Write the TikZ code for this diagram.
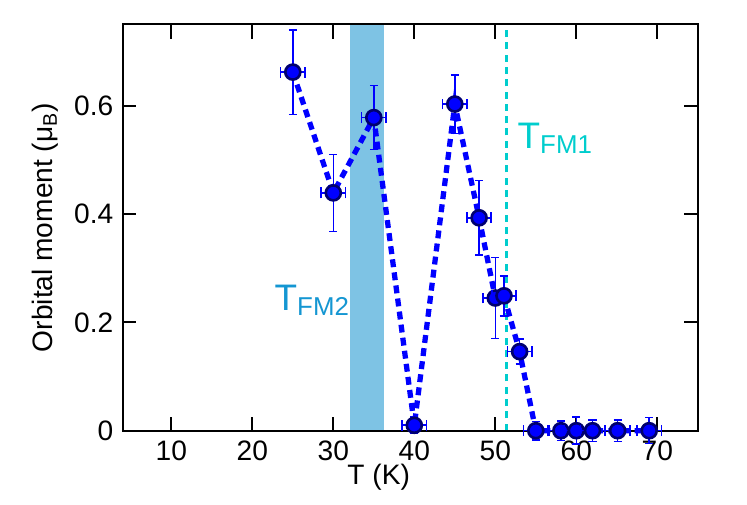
\documentclass[tikz,border=0pt]{standalone}
\usepackage{fontspec}
\setmainfont{Liberation Sans}
\definecolor{band}{RGB}{126,195,228}
\definecolor{tfmone}{RGB}{0,205,205}
\definecolor{tfmtwo}{RGB}{20,150,210}
\definecolor{mk}{RGB}{0,0,255}
\definecolor{mkb}{RGB}{0,0,110}
\begin{document}
\begin{tikzpicture}[
  ticklab/.style={font=\fontsize{16pt}{18pt}\selectfont},
  errb/.style={mk, line width=0.9pt},
  pt/.style={circle, fill=mk, draw=mkb, line width=1.5pt, minimum size=0.3cm, inner sep=0pt}]
\useasboundingbox (0,0) rectangle (14.94,10.10);
\begin{scope}[shift={(1.806,1.486)}, x=0.162cm, y=10.834cm]
\fill[band] (32.1,0) rectangle (36.2,0.75);
\draw[tfmone, line width=1.5pt, dash pattern=on 4pt off 3pt] (51.4,0) -- (51.4,0.75);
\node[tfmone, font=\fontsize{21pt}{23pt}\selectfont] (l1) at (57.4,0.54) {T\textsubscript{FM1}};
\node[tfmtwo, font=\fontsize{21pt}{23pt}\selectfont] (l2) at (27.4,0.241) {T\textsubscript{FM2}};
% axes
\draw[line width=1.2pt] (4,0) rectangle (75,0.75);
\foreach \t in {10,20,...,70}{
  \draw[line width=1pt] (\t,0) -- ++(0,0.026);
  \draw[line width=1pt] (\t,0.75) -- ++(0,-0.026);
  \node[ticklab, anchor=north] at (\t,-0.008) {\t};}
\foreach \m/\l in {0/0,0.2/0.2,0.4/0.4,0.6/0.6}{
  \draw[line width=1pt] (4,\m) -- ++(1.7,0);
  \draw[line width=1pt] (75,\m) -- ++(-1.7,0);
  \node[ticklab, anchor=east] at (3.6,\m) {\l};}
\node[font=\fontsize{16pt}{18pt}\selectfont] (xl) at (35.6,-0.086) {T (K)};
\node[font=\fontsize{16pt}{18pt}\selectfont, rotate=90] (yl) at (-5.6,0.375) {Orbital moment (μ\textsubscript{B})};
% data
\draw[mk, line width=3pt, dash pattern=on 4.5pt off 3pt]
 (25,0.662) -- (30,0.439) -- (35,0.578) -- (40,0.01) -- (45,0.603) -- (48,0.393) -- (50,0.245) -- (51.07,0.249) -- (53,0.146) -- (55,0) -- (58.1,0) -- (60,0) -- (62,0) -- (65.1,0) -- (69,0);
\foreach \x/\y/\e in {25/0.662/0.078, 30/0.439/0.071, 35/0.578/0.059, 40/0.01/0.015, 45/0.603/0.054, 48/0.393/0.069, 50/0.245/0.075, 51.07/0.249/0.037, 53/0.146/0.023, 55/0/0.017, 58.1/0/0.018, 60/0/0.025, 62/0/0.02, 65.1/0/0.02, 69/0/0.024}{
  \draw[errb] (\x,\y-\e) -- (\x,\y+\e);
  \draw[errb] (\x-0.5,\y+\e) -- (\x+0.5,\y+\e);
  \draw[errb] (\x-0.5,\y-\e) -- (\x+0.5,\y-\e);
  \draw[errb] (\x-1.5,\y) -- (\x+1.5,\y);
  \draw[errb] (\x-1.5,\y-0.01) -- (\x-1.5,\y+0.01);
  \draw[errb] (\x+1.5,\y-0.01) -- (\x+1.5,\y+0.01);
  \node[pt] at (\x,\y) {};}
\end{scope}
\end{tikzpicture}
\end{document}
